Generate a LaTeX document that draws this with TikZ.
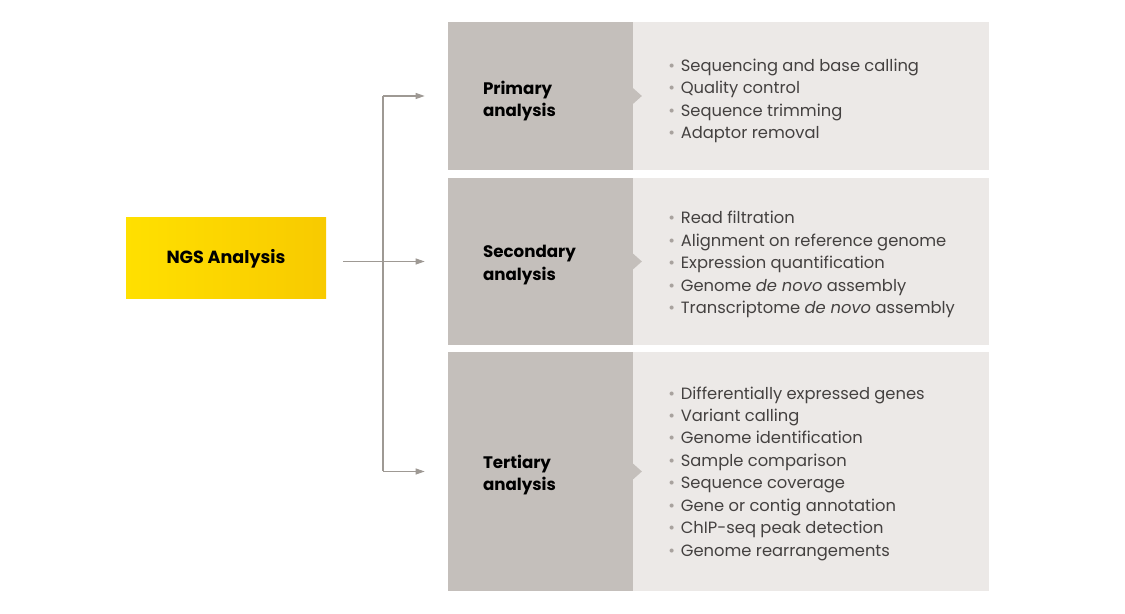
\documentclass[tikz,border=0pt]{standalone}
\usepackage{fontspec}
\setmainfont{Poppins}
\usepackage{tikz}
\usetikzlibrary{arrows.meta, calc, positioning}
\definecolor{gelb}{HTML}{FFE000}
\definecolor{gold}{HTML}{F8CA00}
\definecolor{stufe}{HTML}{C4BFBB}
\definecolor{detail}{HTML}{ECE9E7}
\definecolor{linie}{HTML}{9E9994}
\definecolor{schrift}{HTML}{444140}
\definecolor{punkt}{HTML}{A8A29E}
\newcommand{\itm}[1]{{\color{punkt}\textbullet}\hspace{0.35em}#1}

\begin{document}
\begin{tikzpicture}[
        stage/.style={fill=stufe, minimum width=3.7cm, inner sep=0pt},
        info/.style={fill=detail, minimum width=7.14cm, inner sep=0pt},
        title/.style={font=\fontsize{9.5}{12.6}\selectfont\bfseries, align=left,
                      text=black, anchor=west, inner sep=0pt},
        items/.style={font=\fontsize{9.3}{12.76}\selectfont, align=left,
                      text=schrift, anchor=west, inner sep=0pt},
        line/.style={linie, line width=0.6pt},
        arr/.style={line, -{Triangle[length=1.8mm, width=1.2mm]}}
      ]
      \useasboundingbox (0,0) rectangle (22.5,12.28);

      % source box
      \node[left color=gelb, right color=gold, minimum width=4cm, minimum height=1.62cm,
            font=\fontsize{10}{12}\selectfont\bfseries] (ngs) at (4.52,7.11) {NGS Analysis};

      % stages
      \node[info, minimum height=2.96cm, anchor=west] (primlist) at (12.64,10.36) {};
      \node[info, minimum height=3.34cm, anchor=west] (seclist)  at (12.64,7.05)  {};
      \node[info, minimum height=4.78cm, anchor=west] (terlist)  at (12.64,2.85)  {};

      \node[stage, minimum height=2.96cm] (prim) at (10.81,10.36) {};
      \node[stage, minimum height=3.34cm] (sec)  at (10.81,7.05)  {};
      \node[stage, minimum height=4.78cm] (ter)  at (10.81,2.85)  {};

      \foreach \s in {prim, sec, ter}
        \fill[stufe] ($(\s.east)+(-0.02,0.17)$) -- ++(0.19,-0.17) -- ++(-0.19,-0.17) -- cycle;

      \node[title] (primtitle) at ($(prim.west)+(0.7,-0.1)$) {Primary\\analysis};
      \node[title] (sectitle)  at ($(sec.west)+(0.7,-0.07)$) {Secondary\\analysis};
      \node[title] (tertitle)  at ($(ter.west)+(0.7,-0.07)$) {Tertiary\\analysis};

      \node[items] (primitems) at ($(primlist.west)+(0.72,-0.1)$)
        {\itm{Sequencing and base calling}\\\itm{Quality control}\\
         \itm{Sequence trimming}\\\itm{Adaptor removal}};
      \node[items] (secitems) at ($(seclist.west)+(0.72,-0.06)$)
        {\itm{Read filtration}\\\itm{Alignment on reference genome}\\
         \itm{Expression quantification}\\\itm{Genome \textit{de novo} assembly}\\
         \itm{Transcriptome \textit{de novo} assembly}};
      \node[items] (teritems) at ($(terlist.west)+(0.72,-0.04)$)
        {\itm{Differentially expressed genes}\\\itm{Variant calling}\\
         \itm{Genome identification}\\\itm{Sample comparison}\\
         \itm{Sequence coverage}\\\itm{Gene or contig annotation}\\
         \itm{ChIP-seq peak detection}\\\itm{Genome rearrangements}};

      % connectors
      \coordinate (fork) at (7.66,7.05);
      \draw[arr] (ngs.east |- sec.west) ++(0.34,0) -- ([xshift=-0.46cm]sec.west);
      \draw[line] (fork |- prim.west) -- (fork |- ter.west);
      \foreach \s in {prim, ter}
        \draw[arr] (fork |- \s.west) -- ([xshift=-0.46cm]\s.west);
    \end{tikzpicture}
\end{document}
